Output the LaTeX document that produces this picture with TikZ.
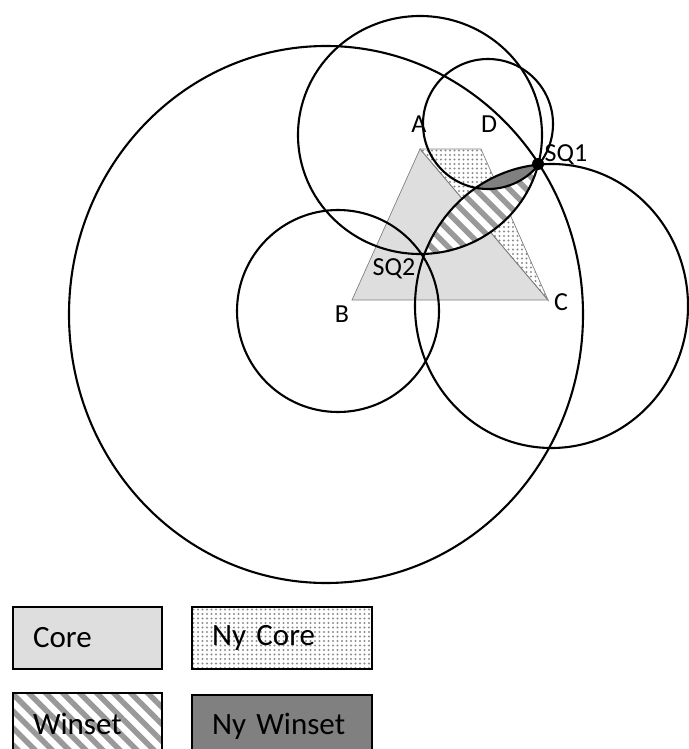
\documentclass[tikz,border=0pt]{standalone}
\usepackage{fontspec}
\setmainfont{Carlito}
\usetikzlibrary{patterns.meta}
\definecolor{coregray}{gray}{0.87}
\definecolor{stripegray}{gray}{0.6}
\definecolor{dotgray}{gray}{0.55}
\definecolor{nywingray}{gray}{0.5}
\tikzset{
  ring/.style={line width=2.1pt},
  dotfill/.style={pattern={Dots[distance=4.5pt,radius=1.1pt]},pattern color=dotgray},
  stripefill/.style={pattern={Lines[angle=-45,distance=12pt,line width=5.5pt]},pattern color=stripegray},
  lbl/.style={font=\fontsize{26}{28}\selectfont,inner sep=0pt},
  legbox/.style={draw,line width=2pt,minimum width=149pt,minimum height=62pt,text width=109pt,
    align=left,inner xsep=20pt,inner ysep=0pt,font=\fontsize{31}{33}\selectfont},
  widebox/.style={legbox,minimum width=180pt,text width=140pt}
}
\begin{document}
\begin{tikzpicture}[x=1pt,y=-1pt]
\useasboundingbox (0,0) rectangle (688,749);
\coordinate (A) at (420,149);
\coordinate (B) at (352,300);
\coordinate (C) at (548,300);
\coordinate (N) at (481,149);
\coordinate (SQ1) at (538,164);
\filldraw[fill=coregray,draw=gray,line width=0.7pt] (A) -- (B) -- (C) -- cycle;
\filldraw[dotfill,draw=gray,line width=0.7pt] (A) -- (N) -- (C) -- cycle;
\begin{scope}
\clip (420,135) ellipse [x radius=122,y radius=119];
\fill[white] (551.5,306) ellipse [x radius=136.5,y radius=142];
\fill[stripefill] (551.5,306) ellipse [x radius=136.5,y radius=142];
\clip (551.5,306) ellipse [x radius=136.5,y radius=142];
\fill[nywingray] (488,124) circle [radius=65];
\end{scope}
\draw[ring] (326,314.5) ellipse [x radius=257,y radius=268.5];
\draw[ring] (420,135) ellipse [x radius=122,y radius=119];
\draw[ring] (488,124) circle [radius=65];
\draw[ring] (338,311) circle [radius=101];
\draw[ring] (551.5,306) ellipse [x radius=136.5,y radius=142];
\fill (SQ1) circle [radius=6];
\node[lbl] (labA) at (419,124) {A};
\node[lbl] (labD) at (489,124) {D};
\node[lbl] (labSQ1) at (566,155) {SQ1};
\node[lbl] (labSQ2) at (394,269) {SQ2};
\node[lbl] (labB) at (342,314) {B};
\node[lbl] (labC) at (561,302) {C};
\node[legbox,fill=coregray] (lcore) at (87.5,638) {Core};
\node[widebox,dotfill] (lnycore) at (282,638) {Ny Core};
\node[legbox,stripefill] (lwin) at (87.5,724) {Winset};
\node[widebox,fill=nywingray] (lnywin) at (282,726) {Ny Winset};
\end{tikzpicture}
\end{document}
